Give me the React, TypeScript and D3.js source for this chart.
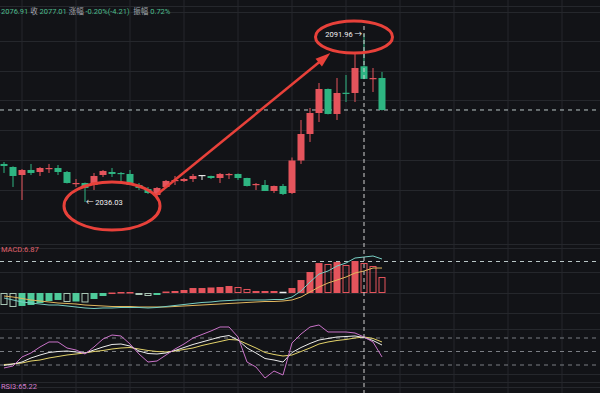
import React from 'react';
import * as d3 from 'd3';

// OHLC (index 0 = leftmost candle)
const opens = [2048.69, 2047.69, 2045.02, 2046.69, 2046.02, 2047.02, 2047.35, 2046.02, 2042.03, 2042.36, 2041.69, 2045.02, 2046.02, 2045.69, 2045.36, 2041.69, 2040.36, 2038.36, 2041.03, 2043.03, 2043.03, 2043.69, 2045.02, 2044.69, 2044.02, 2045.02, 2045.36, 2044.02, 2041.69, 2041.69, 2039.70, 2041.36, 2039.03, 2049.85, 2058.67, 2065.66, 2073.65, 2065.33, 2072.40, 2072.32, 2081.22, 2076.98, 2077.31];
const highs = [2049.35, 2047.90, 2047.00, 2048.69, 2047.69, 2048.69, 2048.35, 2046.36, 2043.69, 2042.50, 2045.69, 2046.69, 2047.35, 2046.00, 2046.69, 2042.36, 2041.03, 2041.03, 2043.36, 2044.69, 2044.02, 2045.36, 2045.02, 2044.80, 2045.69, 2045.69, 2045.50, 2044.10, 2042.36, 2043.36, 2041.50, 2042.03, 2050.85, 2063.33, 2067.33, 2075.65, 2073.80, 2077.31, 2078.31, 2085.63, 2091.96, 2080.64, 2079.31];
const lows = [2045.69, 2041.03, 2036.70, 2045.02, 2044.69, 2045.69, 2045.02, 2042.20, 2041.03, 2036.03, 2040.03, 2044.36, 2044.36, 2042.69, 2041.69, 2040.03, 2038.70, 2037.70, 2040.69, 2041.69, 2042.69, 2042.69, 2043.36, 2043.70, 2042.36, 2043.69, 2043.36, 2041.20, 2040.03, 2039.70, 2039.03, 2038.36, 2038.70, 2048.69, 2056.01, 2062.66, 2065.20, 2063.33, 2069.32, 2069.32, 2076.91, 2072.65, 2066.50];
const closes = [2048.02, 2044.69, 2046.69, 2045.69, 2047.35, 2047.35, 2046.02, 2042.36, 2042.36, 2040.69, 2044.69, 2046.36, 2045.36, 2045.36, 2041.69, 2040.69, 2039.03, 2040.69, 2043.03, 2043.36, 2043.69, 2044.69, 2045.02, 2044.02, 2045.36, 2045.36, 2044.02, 2041.36, 2042.03, 2039.70, 2041.36, 2038.70, 2049.85, 2058.67, 2065.66, 2073.65, 2065.33, 2072.32, 2072.32, 2080.64, 2077.01, 2077.30, 2066.66];

// MACD
const macdHist = [-2.75, -3.2, -2.97, -2.75, -2.29, -1.83, -1.6, -2.06, -1.95, -2.17, -1.37, -0.69, 0.11, 0.23, 0.23, -0.23, -0.69, -0.46, 0.34, 0.46, 0.69, 1.14, 1.14, 1.26, 1.37, 1.6, 1.37, 0.92, 0.46, 0.46, 0.46, 0, 1.14, 2.97, 4.81, 6.86, 6.64, 7.09, 6.41, 7.32, 6.87, 6.18, 3.66];
const dif = [-1.14, -1.6, -2.06, -2.29, -2.52, -2.75, -2.75, -2.97, -3.2, -3.43, -3.55, -3.43, -3.43, -3.32, -3.32, -3.32, -3.43, -3.32, -3.09, -2.86, -2.63, -2.4, -2.17, -2.06, -1.83, -1.72, -1.6, -1.6, -1.6, -1.6, -1.49, -1.49, -0.92, 0.46, 2.52, 4.35, 5.03, 6.18, 6.86, 8.01, 8.24, 8.47, 7.78];
const dea = [-0.69, -0.92, -1.26, -1.6, -1.83, -2.06, -2.29, -2.4, -2.52, -2.75, -2.86, -2.97, -3.09, -3.09, -3.09, -3.2, -3.2, -3.2, -3.2, -3.09, -2.97, -2.86, -2.75, -2.63, -2.52, -2.4, -2.29, -2.17, -2.06, -1.95, -1.95, -1.83, -1.6, -0.92, 0.23, 1.37, 2.29, 2.97, 3.66, 4.58, 5.03, 5.72, 5.72];

// RSI
const rsi1 = [25.6, 28.5, 41.9, 47.8, 56.7, 64.1, 64.1, 55.2, 52.2, 46.3, 56.7, 68.5, 74.4, 73.0, 61.1, 46.3, 34.4, 35.9, 44.8, 53.7, 61.1, 70.0, 75.2, 80.4, 86.3, 86.3, 71.5, 34.4, 27.0, 10.7, 21.1, 15.2, 62.6, 75.9, 86.3, 89.3, 78.9, 78.9, 78.9, 77.4, 71.5, 64.1, 41.9];
const rsi2 = [29.3, 31.5, 34.4, 40.4, 44.8, 48.5, 50.0, 50.7, 49.3, 47.8, 52.2, 56.7, 60.4, 61.1, 58.1, 50.7, 47.0, 46.3, 47.8, 51.5, 55.9, 60.4, 64.1, 67.8, 71.5, 73.7, 67.0, 55.2, 47.8, 39.6, 37.4, 34.4, 48.5, 55.9, 61.9, 67.0, 69.3, 71.5, 72.2, 73.0, 70.7, 66.3, 59.6];
const rsi3 = [30.7, 31.5, 33.0, 35.9, 37.4, 40.4, 42.6, 44.8, 46.3, 47.8, 50.0, 51.5, 53.7, 55.2, 55.9, 53.7, 51.5, 50.0, 49.3, 50.7, 53.0, 55.2, 58.9, 61.9, 64.8, 67.8, 67.0, 61.1, 55.2, 48.5, 45.6, 43.3, 44.8, 50.0, 55.2, 61.1, 64.1, 66.3, 67.8, 70.0, 71.5, 69.3, 64.1];
const rsiLevels = [30, 50, 70];

const hoverIndex = 40;
const headerParts = [
  { t: '2076.91', c: 'num' }, { t: ' 收 ', c: 'lbl' }, { t: '2077.01', c: 'num' },
  { t: ' 涨幅 ', c: 'lbl' }, { t: '-0.20%(-4.21)', c: 'num' }, { t: '  振幅 ', c: 'lbl' }, { t: '0.72%', c: 'num' },
];

const W = 600, H = 393;
const BG = '#121317';
const GRID = '#25272c';
const UP = '#e5545c';
const DOWN = '#2eb582';
const ANNO = '#e8413a';
const FONT = "Roboto, 'Noto Sans CJK SC', sans-serif";

export default function App() {
  const idx = d3.range(closes.length);
  const x = d3.scaleLinear().domain([0, closes.length - 1]).range([4, 382]);
  const y = d3.scaleLinear().domain([2036.03, 2091.96]).range([202, 34]);
  const ym = d3.scaleLinear().domain([0, 6.87]).range([293, 263]);
  const yr = d3.scaleLinear().domain([30, 70]).range([365, 338]);
  const bw = 7;

  const gridX = d3.range(22, W, 54);
  const gridY = [6, 12, 41, 71, 100, 130, 160, 190, 221, 244, 248, 272, 293, 313, 329, 374, 382, 387];

  const lineM = (arr: number[]) => d3.line<number>().x((_, i) => x(i)).y(d => ym(d))(arr) || '';
  const lineR = (arr: number[]) => d3.line<number>().x((_, i) => x(i)).y(d => yr(d))(arr) || '';

  const colorOf = (i: number) => closes[i] > opens[i] ? UP : closes[i] < opens[i] ? DOWN : '#e6e6e6';

  const hx = x(hoverIndex);
  const hiIdx = d3.maxIndex(highs);
  const loIdx = d3.minIndex(lows);
  const lastClose = closes[closes.length - 1];

  // arrow from low ellipse to high ellipse
  const a0 = [x(17), y(2038.5)];
  const a1 = [x(hiIdx) - 36, y(highs[hiIdx]) + 21];
  const ang = Math.atan2(a1[1] - a0[1], a1[0] - a0[0]);
  const ah = 13;
  const headPts = [
    [a1[0] + 3 * Math.cos(ang), a1[1] + 3 * Math.sin(ang)],
    [a1[0] - ah * Math.cos(ang - 0.4), a1[1] - ah * Math.sin(ang - 0.4)],
    [a1[0] - ah * Math.cos(ang + 0.4), a1[1] - ah * Math.sin(ang + 0.4)],
  ].map(p => p.join(',')).join(' ');

  return (
    <svg width={W} height={H} style={{ position: 'fixed', left: 0, top: 0, display: 'block', background: BG }} fontFamily={FONT}>
      <rect width={W} height={H} fill={BG} />
      {gridX.map(gx => <line key={'gx' + gx} x1={gx} x2={gx} y1={0} y2={H} stroke={GRID} strokeWidth={1} />)}
      {gridY.map(gy => <line key={'gy' + gy} x1={0} x2={W} y1={gy + 0.5} y2={gy + 0.5} stroke={GRID} strokeWidth={1} />)}

      {/* header */}
      <text x={1} y={14} fontSize={7.5}>
        {headerParts.map((p, i) => (
          <tspan key={i} fill={p.c === 'num' ? '#4dbb8c' : '#a3a7ae'} style={{ whiteSpace: 'pre' }}>{p.t}</tspan>
        ))}
      </text>

      {/* last price line */}
      <line x1={0} x2={W} y1={y(lastClose)} y2={y(lastClose)} stroke="#b9c6c6" strokeDasharray="4,4" strokeWidth={1} />

      {/* candles */}
      {idx.map(i => {
        const c = colorOf(i);
        const top = y(Math.max(opens[i], closes[i]));
        const bot = y(Math.min(opens[i], closes[i]));
        return (
          <g key={'c' + i}>
            <line x1={x(i)} x2={x(i)} y1={y(highs[i])} y2={y(lows[i])} stroke={c} strokeWidth={1} />
            <rect x={x(i) - bw / 2} y={top} width={bw} height={Math.max(1.2, bot - top)} fill={c} />
          </g>
        );
      })}

      {/* MACD */}
      <text x={1} y={252} fontSize={7.5} fill="#e0626c">MACD:6.87</text>
      <line x1={0} x2={W} y1={261.5} y2={261.5} stroke="#b9c6c6" strokeDasharray="4,4" strokeWidth={1} />
      {idx.map(i => {
        const v = macdHist[i];
        const hollow = i === 0 ? true : v < macdHist[i - 1];
        const top = Math.min(ym(v), ym(0));
        const h = Math.abs(ym(v) - ym(0));
        if (v === 0) return <line key={'m' + i} x1={x(i) - bw / 2} x2={x(i) + bw / 2} y1={ym(0) - 0.5} y2={ym(0) - 0.5} stroke="#eeeeee" strokeWidth={1.5} />;
        const c = v > 0 ? UP : (hollow ? '#a9c7b6' : '#4fcb9b');
        return hollow
          ? <rect key={'m' + i} x={x(i) - bw / 2 + 0.5} y={top + 0.5} width={bw - 1} height={Math.max(1, h - 1)} fill="none" stroke={c} strokeWidth={1} />
          : <rect key={'m' + i} x={x(i) - bw / 2} y={top} width={bw} height={Math.max(1.5, h)} fill={c} />;
      })}
      <path d={lineM(dea)} fill="none" stroke="#e2b75e" strokeWidth={1} />
      <path d={lineM(dif)} fill="none" stroke="#78cfc4" strokeWidth={1} />

      {/* RSI */}
      {rsiLevels.map(l => <line key={'r' + l} x1={0} x2={W} y1={yr(l)} y2={yr(l)} stroke="#7b7e84" strokeDasharray="4,4" strokeWidth={1} />)}
      <path d={lineR(rsi3)} fill="none" stroke="#e4d36a" strokeWidth={1} />
      <path d={lineR(rsi2)} fill="none" stroke="#ececec" strokeWidth={1} />
      <path d={lineR(rsi1)} fill="none" stroke="#c972c8" strokeWidth={1} />
      <text x={1} y={389} fontSize={7.5} fill="#d27fcf">RSI3:65.22</text>

      {/* crosshair */}
      <line x1={hx} x2={hx} y1={26} y2={H} stroke="#d0d0d0" strokeDasharray="4,3" strokeWidth={1} />

      {/* high / low marks */}
      <text x={x(hiIdx) - 2} y={y(highs[hiIdx]) + 3} fontSize={7.5} fill="#f2f2f2" textAnchor="end">2091.96 →</text>
      <text x={x(loIdx) + 1} y={y(lows[loIdx]) + 3} fontSize={7.5} fill="#f2f2f2">← 2036.03</text>

      {/* annotations */}
      <ellipse cx={x(hiIdx) - 10} cy={y(highs[hiIdx]) + 3} rx={38.5} ry={16} fill="none" stroke={ANNO} strokeWidth={3} />
      <ellipse cx={x(loIdx) + 27} cy={y(lows[loIdx]) + 4} rx={48} ry={24} fill="none" stroke={ANNO} strokeWidth={3} />
      <line x1={a0[0]} y1={a0[1]} x2={a1[0] - 6 * Math.cos(ang)} y2={a1[1] - 6 * Math.sin(ang)} stroke={ANNO} strokeWidth={2.5} />
      <polygon points={headPts} fill={ANNO} />
    </svg>
  );
}
